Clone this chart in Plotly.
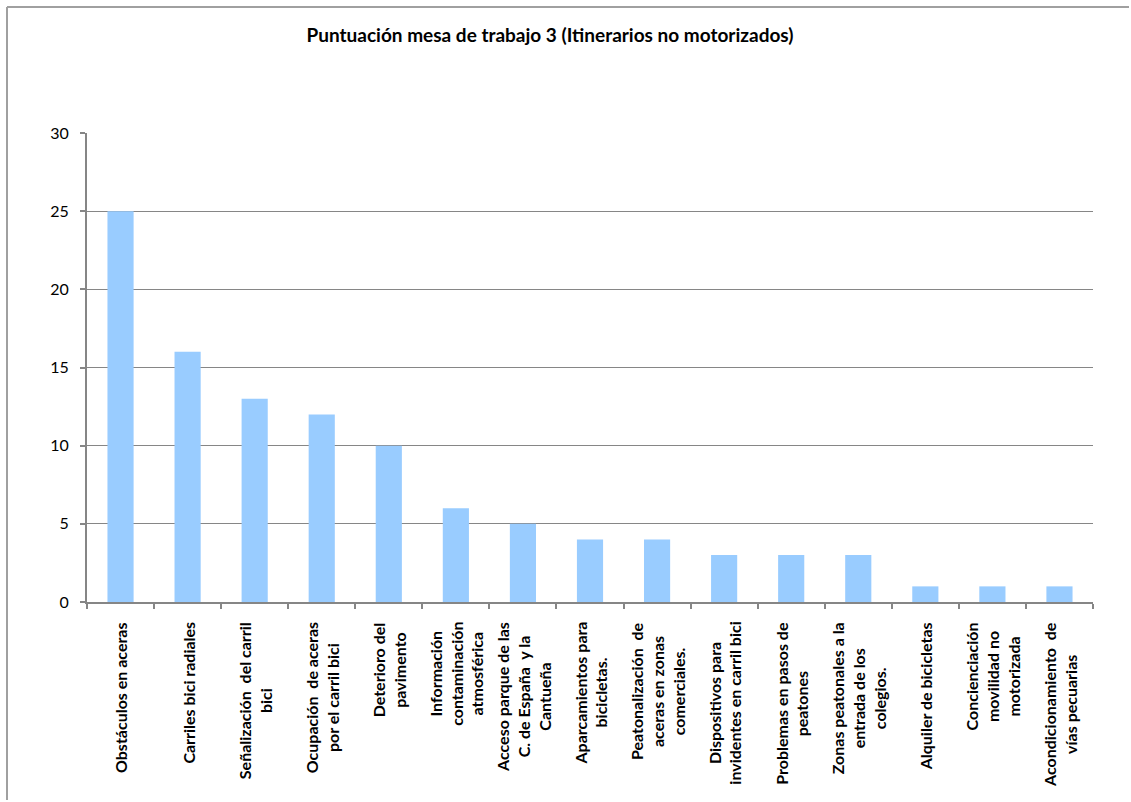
import plotly.graph_objects as go

categories = [
    "Obstáculos en aceras",
    "Carriles bici radiales",
    "Señalización del carril bici",
    "Ocupación de aceras por el carril bici",
    "Deterioro del pavimento",
    "Información contaminación atmosférica",
    "Acceso parque de las C. de España y la Cantueña",
    "Aparcamientos para bicicletas.",
    "Peatonalización de aceras en zonas comerciales.",
    "Dispositivos para invidentes en carril bici",
    "Problemas en pasos de peatones",
    "Zonas peatonales a la entrada de los colegios.",
    "Alquiler de bicicletas",
    "Concienciación movilidad no motorizada",
    "Acondicionamiento de vías pecuarias",
]
label_lines = [
    ["Obstáculos en aceras"],
    ["Carriles bici radiales"],
    ["Señalización  del carril", "bici"],
    ["Ocupación  de aceras", "por el carril bici"],
    ["Deterioro del", "pavimento"],
    ["Información", "contaminación", "atmosférica"],
    ["Acceso parque de las", "C. de España  y la", "Cantueña"],
    ["Aparcamientos para", "bicicletas."],
    ["Peatonalización  de", "aceras en zonas", "comerciales."],
    ["Dispositivos para", "invidentes en carril bici"],
    ["Problemas en pasos de", "peatones"],
    ["Zonas peatonales a la", "entrada de los", "colegios."],
    ["Alquiler de bicicletas"],
    ["Concienciación", "movilidad no", "motorizada"],
    ["Acondicionamiento  de", "vías pecuarias"],
]
values = [25, 16, 13, 12, 10, 6, 5, 4, 4, 3, 3, 3, 1, 1, 1]
y_ticks = [0, 5, 10, 15, 20, 25, 30]
title_text = "Puntuación mesa de trabajo 3 (Itinerarios no motorizados)"

W, H = 1131, 802
L, R, T, B = 87, 38, 133, 200
pw, ph = W - L - R, H - T - B

fig = go.Figure()
fig.add_trace(go.Bar(
    x=categories, y=values, width=0.39,
    marker=dict(color="#99CCFF", line=dict(width=0)),
    hoverinfo="x+y",
))

annotations = []
for cat, lines in zip(categories, label_lines):
    annotations.append(dict(
        x=cat, xref="x", y=(602 - 620) / ph, yref="paper",
        text="<br>".join(lines), textangle=-90, showarrow=False,
        xanchor="center", yanchor="top", align="center",
        font=dict(family="Lato", size=16, color="#000000", weight="bold"),
    ))

frame = dict(color="#A0A0A0", width=2)
fig.update_layout(
    width=W, height=H,
    margin=dict(l=L, r=R, t=T, b=B),
    paper_bgcolor="white", plot_bgcolor="white",
    showlegend=False,
    title=dict(
        text="<b>" + title_text + "</b>",
        x=550 / W, xref="container", xanchor="center",
        y=1 - 35 / H, yref="container", yanchor="middle",
        font=dict(family="Lato", size=19, color="#000000"),
    ),
    xaxis=dict(
        type="category", showticklabels=False, ticks="outside", tickson="boundaries",
        ticklen=5, tickcolor="#868686", tickwidth=1.5,
        showline=True, linecolor="#868686", linewidth=2, showgrid=False,
        range=[-0.5, len(categories) - 0.5],
    ),
    yaxis=dict(
        range=[0, 30], tickvals=y_ticks, ticks="outside", ticklen=5,
        tickcolor="#868686", tickwidth=1.5,
        showline=True, linecolor="#868686", linewidth=2,
        showgrid=True, gridcolor="#868686", gridwidth=1, zeroline=False,
        tickfont=dict(family="Lato", size=16, color="#000000"),
        ticklabelstandoff=8,
    ),
    annotations=annotations,
    shapes=[
        dict(type="line", xref="paper", yref="paper",
             x0=(7 - L) / pw, x1=(W - 2 - L) / pw,
             y0=(602 - 7) / ph, y1=(602 - 7) / ph, line=frame, layer="below"),
        dict(type="line", xref="paper", yref="paper",
             x0=(7 - L) / pw, x1=(7 - L) / pw,
             y0=(602 - 7) / ph, y1=(602 - (H - 2)) / ph, line=frame, layer="below"),
    ],
)

fig.write_html("out.html")
